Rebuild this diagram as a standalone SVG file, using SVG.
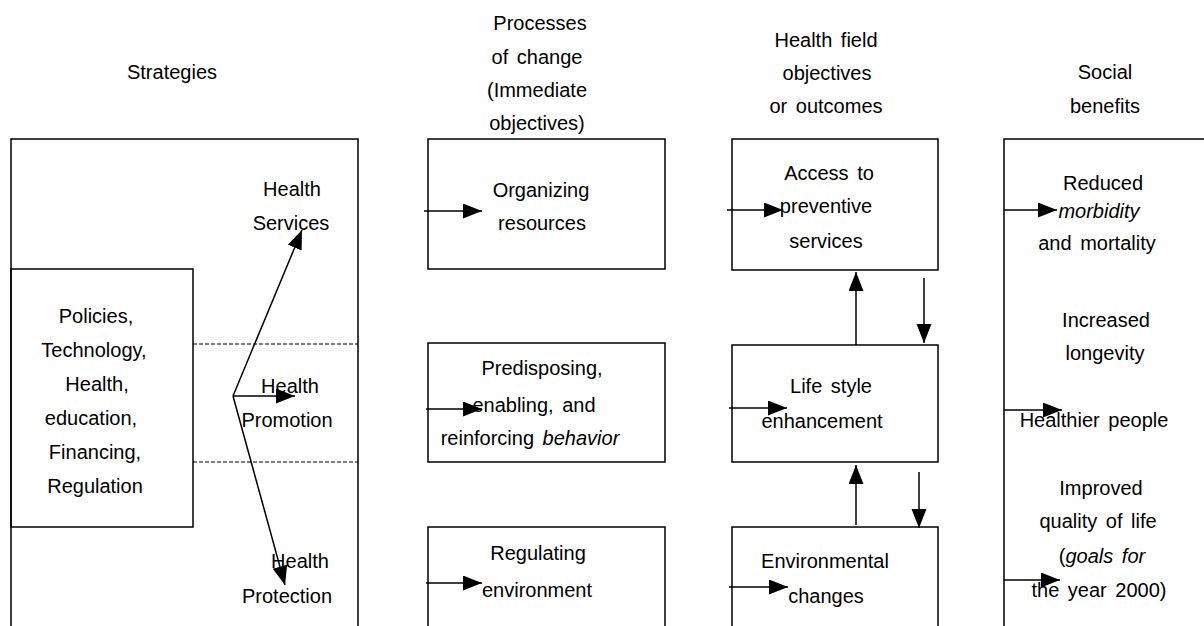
<svg xmlns="http://www.w3.org/2000/svg" width="1204" height="626" viewBox="0 0 1204 626">
<defs>
<style>
.box{fill:none;stroke:#000;stroke-width:1.5}
.ln{fill:none;stroke:#000;stroke-width:1.5}
.dash{fill:none;stroke:#000;stroke-width:1;stroke-dasharray:4 2}
text{font-family:"Liberation Sans",Arial,Helvetica,sans-serif;font-size:20px;fill:#000;text-anchor:middle;word-spacing:3px}
.it{font-style:italic}
</style>
<marker id="ah" markerUnits="userSpaceOnUse" markerWidth="22" markerHeight="18" refX="19" refY="7.5" orient="auto">
<path d="M0,0 L19,7.5 L0,15 z" fill="#000"/>
</marker>
</defs>
<rect width="1204" height="626" fill="#fff"/>

<g id="headers">
<text x="172" y="79">Strategies</text>
<text x="540" y="30">Processes</text>
<text x="537" y="64">of change</text>
<text x="537" y="97">(Immediate</text>
<text x="537" y="130">objectives)</text>
<text x="826" y="47">Health field</text>
<text x="827" y="80">objectives</text>
<text x="826" y="113">or outcomes</text>
<text x="1105" y="79">Social</text>
<text x="1105" y="113">benefits</text>
</g>

<g id="strategies">
<path class="box" d="M11,640 V139 H358 V640"/>
<line class="dash" x1="193" y1="344" x2="358" y2="344"/>
<line class="dash" x1="193" y1="462" x2="358" y2="462"/>
<text x="292" y="196">Health</text>
<text x="291" y="230">Services</text>
<text x="290" y="393">Health</text>
<text x="287" y="427">Promotion</text>
<text x="300" y="568">Health</text>
<text x="287" y="603">Protection</text>
</g>

<g id="policies">
<rect class="box" x="11" y="269" width="182" height="258"/>
<text x="96" y="323">Policies,</text>
<text x="94" y="357">Technology,</text>
<text x="97" y="391">Health,</text>
<text x="91" y="425">education,</text>
<text x="95" y="459">Financing,</text>
<text x="95" y="493">Regulation</text>
</g>

<g id="organizing">
<rect class="box" x="428" y="139" width="237" height="130"/>
<text x="541" y="197">Organizing</text>
<text x="542" y="230">resources</text>
</g>
<g id="predisposing">
<rect class="box" x="428" y="343" width="237" height="119"/>
<text x="542" y="375">Predisposing,</text>
<text x="534" y="412">enabling, and</text>
<text x="530" y="445">reinforcing <tspan class="it">behavior</tspan></text>
</g>
<g id="regulating">
<path class="box" d="M428,640 V527 H665 V640"/>
<text x="538" y="560">Regulating</text>
<text x="537" y="597">environment</text>
</g>

<g id="access">
<rect class="box" x="732" y="139" width="206" height="131"/>
<text x="829" y="180">Access to</text>
<text x="826" y="213">preventive</text>
<text x="826" y="248">services</text>
</g>
<g id="lifestyle">
<rect class="box" x="732" y="345" width="206" height="117"/>
<text x="831" y="393">Life style</text>
<text x="822" y="428">enhancement</text>
</g>
<g id="environmental">
<path class="box" d="M732,640 V527 H938 V640"/>
<text x="825" y="568">Environmental</text>
<text x="826" y="603">changes</text>
</g>

<g id="benefits">
<path class="box" d="M1004,640 V139 H1220"/>
<text x="1103" y="190">Reduced</text>
<text x="1099" y="218" class="it">morbidity</text>
<text x="1097" y="250">and mortality</text>
<text x="1106" y="327">Increased</text>
<text x="1105" y="360">longevity</text>
<text x="1094" y="427">Healthier people</text>
<text x="1101" y="495">Improved</text>
<text x="1098" y="528">quality of life</text>
<text x="1102" y="563">(<tspan class="it">goals for</tspan></text>
<text x="1099" y="597">the year 2000)</text>
</g>

<g id="connectors">
<line class="ln" x1="233" y1="396" x2="302" y2="230" marker-end="url(#ah)"/>
<line class="ln" x1="233" y1="396" x2="295" y2="396" marker-end="url(#ah)"/>
<line class="ln" x1="233" y1="396" x2="285" y2="585" marker-end="url(#ah)"/>
<line class="ln" x1="424" y1="211" x2="482" y2="211" marker-end="url(#ah)"/>
<line class="ln" x1="426" y1="409" x2="482" y2="409" marker-end="url(#ah)"/>
<line class="ln" x1="426" y1="583" x2="482" y2="583" marker-end="url(#ah)"/>
<line class="ln" x1="727" y1="210" x2="783" y2="210" marker-end="url(#ah)"/>
<line class="ln" x1="729" y1="408" x2="787" y2="408" marker-end="url(#ah)"/>
<line class="ln" x1="729" y1="587" x2="788" y2="587" marker-end="url(#ah)"/>
<line class="ln" x1="856" y1="345" x2="856" y2="272" marker-end="url(#ah)"/>
<line class="ln" x1="924" y1="278" x2="924" y2="343" marker-end="url(#ah)"/>
<line class="ln" x1="856" y1="525" x2="856" y2="465" marker-end="url(#ah)"/>
<line class="ln" x1="919" y1="472" x2="919" y2="528" marker-end="url(#ah)"/>
<line class="ln" x1="1004" y1="210" x2="1057" y2="210" marker-end="url(#ah)"/>
<line class="ln" x1="1004" y1="410" x2="1062" y2="410" marker-end="url(#ah)"/>
<line class="ln" x1="1004" y1="580" x2="1060" y2="580" marker-end="url(#ah)"/>
</g>
</svg>
